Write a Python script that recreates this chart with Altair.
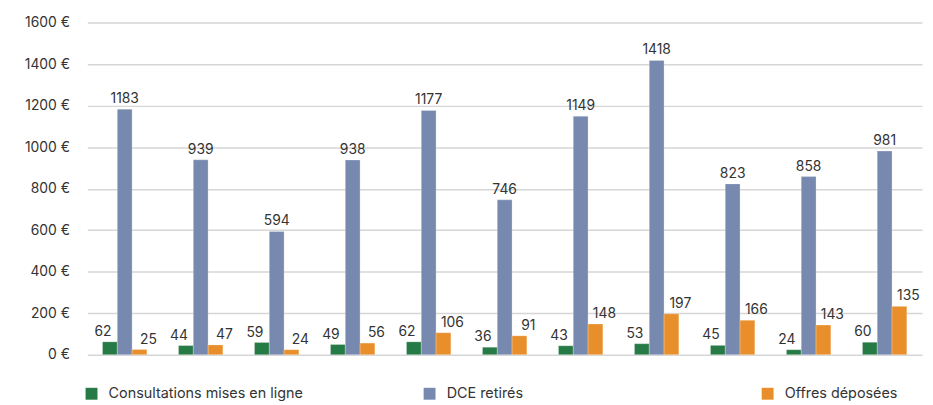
import altair as alt
import pandas as pd

groups = [str(i) for i in range(1, 12)]
series_names = ["Consultations mises en ligne", "DCE retirés", "Offres déposées"]
consultations = [62, 44, 59, 49, 62, 36, 43, 53, 45, 24, 60]
dce = [1183, 939, 594, 938, 1177, 746, 1149, 1418, 823, 858, 981]
offres = [25, 47, 24, 56, 106, 91, 148, 197, 166, 143, 233]
offres_labels = [25, 47, 24, 56, 106, 91, 148, 197, 166, 143, 135]
colors = ["#267a45", "#7889b0", "#e88f2b"]
y_ticks = [0, 200, 400, 600, 800, 1000, 1200, 1400, 1600]

rows = []
for i, g in enumerate(groups):
    rows.append({"group": g, "series": series_names[0], "value": consultations[i], "label": str(consultations[i])})
    rows.append({"group": g, "series": series_names[1], "value": dce[i], "label": str(dce[i])})
    rows.append({"group": g, "series": series_names[2], "value": offres[i], "label": str(offres_labels[i])})
df = pd.DataFrame(rows)

FONT = "Inter"
TXT = "#333333"

x = alt.X("group:N", sort=groups, axis=None,
          scale=alt.Scale(paddingInner=0.416, paddingOuter=0.2))
xo = alt.XOffset("series:N", sort=series_names, scale=alt.Scale(paddingInner=0, paddingOuter=0))
y = alt.Y("value:Q", title=None,
          scale=alt.Scale(domain=[0, 1600], nice=False),
          axis=alt.Axis(values=y_ticks, labelExpr="datum.value + ' €'",
                        domain=False, ticks=False, labelPadding=18,
                        gridColor="#d6d6d6", gridWidth=1.5,
                        labelFont=FONT, labelFontSize=14, labelColor=TXT))
color = alt.Color("series:N", sort=series_names,
                  scale=alt.Scale(domain=series_names, range=colors),
                  legend=alt.Legend(title=None, orient="none", legendX=-3, legendY=367,
                                    direction="horizontal", columns=3, gridAlign="all",
                                    columnPadding=120, symbolType="square", symbolSize=144,
                                    symbolStrokeWidth=0, symbolOffset=0, labelOffset=10,
                                    labelLimit=400,
                                    labelFont=FONT, labelFontSize=14.5, labelColor=TXT))

base = alt.Chart(df)
bars = base.mark_bar(stroke="white", strokeOpacity=0.5, strokeWidth=0.5).encode(
    x=x, xOffset=xo, y=y, color=color)

def text_layer(name, dx):
    return base.transform_filter(alt.datum.series == name).mark_text(
        baseline="bottom", dy=-3, dx=dx, font=FONT, fontSize=14, color=TXT
    ).encode(x=x, xOffset=xo, y=alt.Y("value:Q"), text="label:N")

chart = alt.layer(
    bars,
    text_layer(series_names[0], -7),
    text_layer(series_names[1], 0),
    text_layer(series_names[2], 9),
).properties(
    width=842, height=335,
    autosize=alt.AutoSizeParams(type="none"),
    padding={"left": 80, "top": 13, "right": 3, "bottom": 49},
).configure_view(stroke=None)

chart.save("out.html", embed_options={"renderer": "svg", "actions": False})
